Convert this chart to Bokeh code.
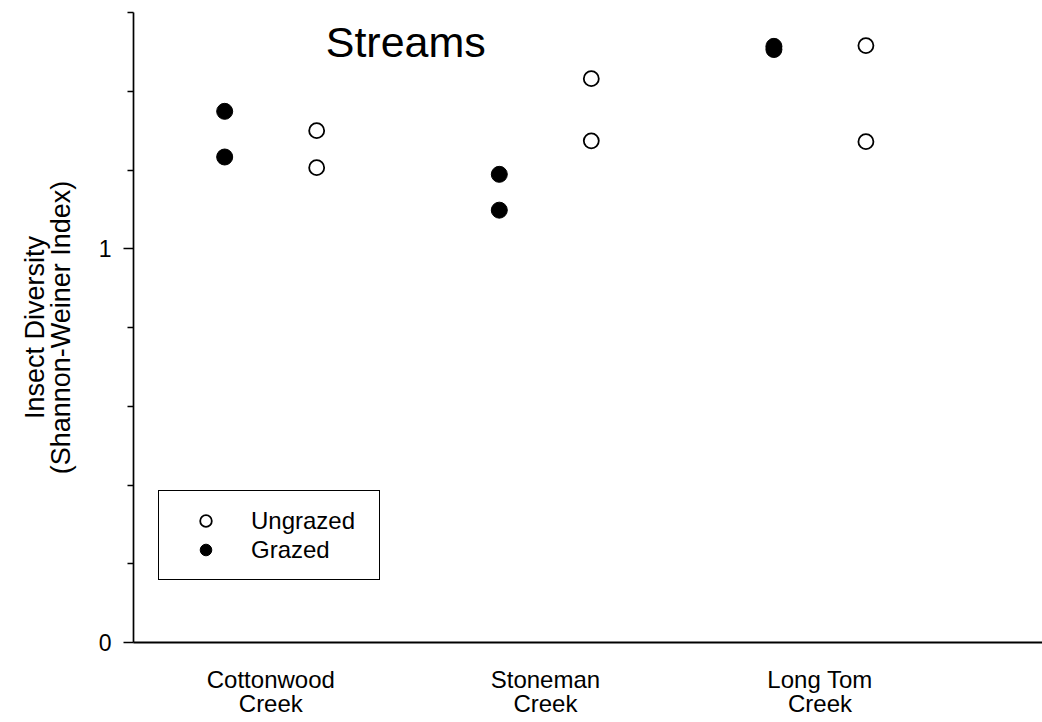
from bokeh.plotting import figure
from bokeh.models import FixedTicker, Legend, LegendItem, Label, ColumnDataSource
from bokeh.transform import dodge
from bokeh.embed import file_html
from bokeh.resources import INLINE

# ---- data ----
site_labels = ["Cottonwood\nCreek", "Stoneman\nCreek", "Long Tom\nCreek"]
site_positions = [1, 2, 3]
grazed_site = [1, 1, 2, 2, 3, 3]
grazed_values = [1.349, 1.233, 1.189, 1.098, 1.514, 1.506]
ungrazed_site = [1, 1, 2, 2, 3, 3]
ungrazed_values = [1.300, 1.206, 1.432, 1.274, 1.516, 1.272]
y_major_ticks = [0, 1]
y_minor_ticks = [0.2, 0.4, 0.6, 0.8, 1.2, 1.4, 1.6]
title_text = "Streams"
y_label = "Insect Diversity\n(Shannon-Weiner Index)"

FONT = "Liberation Sans"

src_g = ColumnDataSource(dict(site=grazed_site, value=grazed_values))
src_u = ColumnDataSource(dict(site=ungrazed_site, value=ungrazed_values))

p = figure(width=1042, height=722, x_range=(0.5, 3.81), y_range=(0, 1.6),
           output_backend="svg", toolbar_location=None,
           min_border_left=133, min_border_right=0, min_border_top=12,
           min_border_bottom=80, background_fill_color="white",
           border_fill_color="white")
p.outline_line_color = None
p.xgrid.visible = False
p.ygrid.visible = False

r_u = p.scatter(x=dodge("site", 0.167), y="value", source=src_u, marker="circle",
                size=15, fill_color="white", line_color="black", line_width=1.8)
r_g = p.scatter(x=dodge("site", -0.168), y="value", source=src_g, marker="circle",
                size=16, fill_color="black", line_color="black", line_width=1)

# y axis
ya = p.yaxis[0]
ya.ticker = FixedTicker(ticks=y_major_ticks, minor_ticks=y_minor_ticks)
ya.major_tick_out = 10
ya.major_tick_in = 0
ya.minor_tick_out = 6
ya.minor_tick_in = 0
ya.axis_line_width = 1.7
ya.major_tick_line_width = 1.5
ya.minor_tick_line_width = 1.5
ya.axis_line_color = "black"
ya.major_tick_line_color = "black"
ya.minor_tick_line_color = "black"
ya.major_label_text_font = FONT
ya.major_label_text_font_size = "23px"
ya.major_label_text_color = "black"
ya.major_label_standoff = 12
ya.axis_label = y_label
ya.axis_label_text_font = FONT
ya.axis_label_text_font_size = "27px"
ya.axis_label_text_font_style = "normal"
ya.axis_label_text_color = "black"
ya.axis_label_text_line_height = 0.85
ya.axis_label_standoff = 20

# x axis
xa = p.xaxis[0]
xa.ticker = FixedTicker(ticks=site_positions, minor_ticks=[])
xa.major_label_overrides = {pos: lab for pos, lab in zip(site_positions, site_labels)}
xa.major_tick_out = 0
xa.major_tick_in = 0
xa.minor_tick_out = 0
xa.minor_tick_in = 0
xa.axis_line_width = 2
xa.axis_line_color = "black"
xa.major_label_text_font = FONT
xa.major_label_text_font_size = "24px"
xa.major_label_text_color = "black"
xa.major_label_text_line_height = 0.92
xa.major_label_standoff = 23

# title inside plot
p.add_layout(Label(x=1.2, y=1.524, text=title_text, text_font=FONT,
                   text_font_size="43px", text_baseline="middle",
                   text_color="black"))

legend = Legend(items=[LegendItem(label="Ungrazed", renderers=[r_u]),
                       LegendItem(label="Grazed", renderers=[r_g])],
                location=(25, 62), padding=15, glyph_width=63, glyph_height=29,
                label_height=29, label_standoff=14, label_width=113, spacing=0,
                margin=0, border_line_color="black", border_line_width=1.5,
                border_line_alpha=1, background_fill_color="white",
                background_fill_alpha=1, label_text_font=FONT,
                label_text_font_size="24px", label_text_color="black")
p.add_layout(legend)

open("out.html", "w").write(file_html(p, INLINE))
